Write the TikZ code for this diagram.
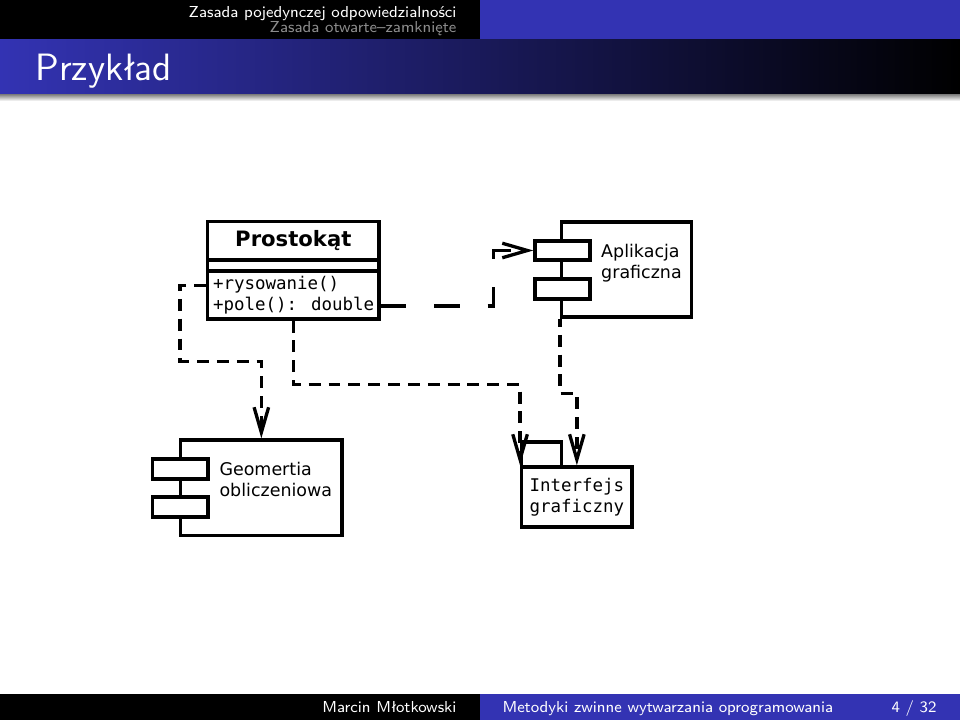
\documentclass[tikz,border=0pt]{standalone}
\usepackage{fontspec}
\usetikzlibrary{arrows.meta}
\newfontfamily\umlsans{DejaVu Sans}
\newfontfamily\umlmono{DejaVu Sans Mono}
\definecolor{slideblue}{RGB}{51,51,179}
\newcommand{\pxu}{0.37795pt}

\begin{document}
\begin{tikzpicture}[x=0.37795pt, y=-0.37795pt,
    box/.style={draw=black, line width=1.25pt, fill=white, inner sep=0pt},
    umltext/.style={font=\umlsans\fontsize{6.6}{8}\selectfont, inner sep=0pt, align=left},
    umlcode/.style={font=\umlmono\fontsize{6.6}{8}\selectfont, inner sep=0pt, align=left},
    headtext/.style={font=\sffamily\fontsize{6}{7}\selectfont, inner sep=0pt, text=white},
    dep/.style={line width=1.25pt, dash pattern=on 4.5pt off 3pt, -{Straight Barb[length=9.5pt,width=5.5pt]}},
    deplong/.style={dep, dash pattern=on 9.6pt off 10.6pt}]
    \useasboundingbox[fill=white] (0,0) rectangle (960,720);
    \fill[black] (0,0) rectangle (480,40);
    \fill[slideblue] (480,0) rectangle (960,40);
    \shade[left color=slideblue, right color=black] (0,40) rectangle (960,95);
    \shade[top color=black!45, bottom color=white] (0,95) rectangle (960,101);
    \fill[black] (0,694) rectangle (480,720);
    \fill[slideblue] (480,694) rectangle (960,720);
    \node[headtext, anchor=base east] at (457,17.5) (sec1) {Zasada pojedynczej odpowiedzialności};
    \node[headtext, anchor=base east, text=white!55!black] at (457,33) (sec2) {Zasada otwarte–zamknięte};
    \node[headtext, anchor=base west, font=\sffamily\fontsize{14.4}{17}\selectfont] at (35,81) (title) {Przykład};
    \node[headtext, anchor=base east] at (457,712) (author) {Marcin Młotkowski};
    \node[headtext, anchor=base west] at (502,712) (talk) {Metodyki zwinne wytwarzania oprogramowania};
    \node[headtext, anchor=base east] at (937,712) (page) {4 / 32};

    \node[box, minimum width=171.3*\pxu, minimum height=38.3*\pxu] at (293.35,240.85) (clsname) {};
    \node[box, minimum width=171.3*\pxu, minimum height=11*\pxu] at (293.35,265.5) (clsattr) {};
    \node[box, minimum width=171.3*\pxu, minimum height=48*\pxu] at (293.35,295) (clsops) {};
    \node[inner sep=0pt, anchor=base, font=\umlsans\bfseries\fontsize{8}{9.6}\selectfont] at (293.35,247) (clslabel) {Prostokąt};
    \node[umlcode, anchor=base west] at (212.5,290) (op1) {+rysowanie()};
    \node[umlcode, anchor=base west] at (212.5,311) (op2) {+pole(): double};

    \node[box, minimum width=130*\pxu, minimum height=95*\pxu] at (626.7,269.5) (app) {};
    \node[box, minimum width=55*\pxu, minimum height=19*\pxu] at (562.5,250.5) (appport1) {};
    \node[box, minimum width=55*\pxu, minimum height=20*\pxu] at (562.5,289) (appport2) {};
    \node[umltext, anchor=west] at (600.7,262.8) (applabel) {Aplikacja\\graficzna};

    \node[box, minimum width=161.3*\pxu, minimum height=95.7*\pxu] at (261.35,487.85) (geo) {};
    \node[box, minimum width=55.3*\pxu, minimum height=20*\pxu] at (180.35,469) (geoport1) {};
    \node[box, minimum width=55.3*\pxu, minimum height=20*\pxu] at (180.35,507) (geoport2) {};
    \node[umltext, anchor=west] at (219,479.5) (geolabel) {Geomertia\\obliczeniowa};

    \node[box, minimum width=40*\pxu, minimum height=25*\pxu] at (541.7,454.5) (pkgtab) {};
    \node[box, umlcode, align=center, minimum width=110.3*\pxu, minimum height=60*\pxu] at (576.85,497) (pkg) {Interfejs\\graficzny};

    \draw[dep] (clsops.west |- op1) -| ++(-26,76) -| (geo.north);
    \draw[dep] (clsops.south) -- ++(0,64) -| (pkg.north west);
    \draw[deplong] (clsops.east |- op2) -- ++(113,0) |- (appport1.west);
    \draw[dep, dash phase=1.4pt] (app.south west) -- ++(0,75) -| (pkg.north);
\end{tikzpicture}
\end{document}
